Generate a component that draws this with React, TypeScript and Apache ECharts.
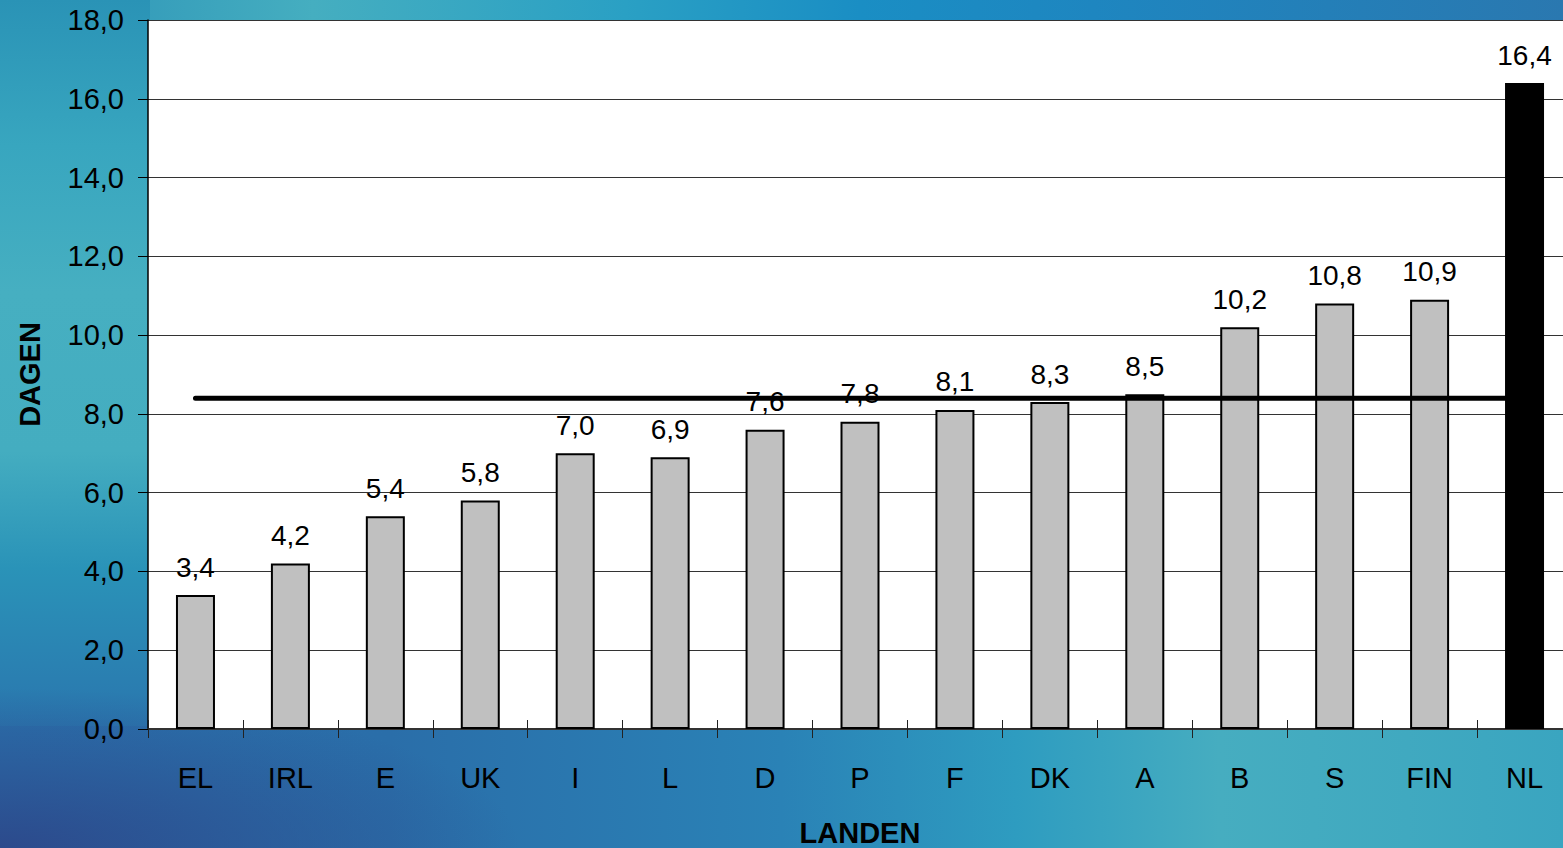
import React, { useEffect, useRef } from "react";
import * as echarts from "echarts";

const categories = ["EL", "IRL", "E", "UK", "I", "L", "D", "P", "F", "DK", "A", "B", "S", "FIN", "NL"];
const values = [3.4, 4.2, 5.4, 5.8, 7.0, 6.9, 7.6, 7.8, 8.1, 8.3, 8.5, 10.2, 10.8, 10.9, 16.4];
const average = [8.4, 8.4, 8.4, 8.4, 8.4, 8.4, 8.4, 8.4, 8.4, 8.4, 8.4, 8.4, 8.4, 8.4, 8.4];
const highlight = "NL";
const yTicks = { min: 0, max: 18, interval: 2 };

const fmt = (v: number) => v.toFixed(1).replace(".", ",");
const FONT = "'Liberation Sans', Arial, Helvetica, sans-serif";

export default function App() {
  const ref = useRef<HTMLDivElement>(null);
  useEffect(() => {
    if (!ref.current) return;
    const chart = echarts.init(ref.current, undefined, { renderer: "svg" });
    chart.setOption({
      animation: false,
      textStyle: { fontFamily: FONT },
      grid: {
        left: 148,
        right: -9,
        top: 20,
        bottom: 119,
        outerBoundsMode: "none",
        containLabel: false,
        show: true,
        backgroundColor: "#ffffff",
        borderWidth: 0,
      },
      xAxis: [
        {
          type: "category",
          data: categories,
          axisLine: { show: true, lineStyle: { color: "#333", width: 2 } },
          axisTick: { show: true, inside: false, length: 9, lineStyle: { color: "#222", width: 1 } },
          axisLabel: { color: "#000", fontSize: 29, fontFamily: FONT, margin: 34 },
          name: "LANDEN",
          nameLocation: "middle",
          nameGap: 89,
          nameTextStyle: { color: "#000", fontSize: 29, fontWeight: "bold", fontFamily: FONT },
        },
        {
          type: "category",
          data: categories,
          position: "bottom",
          axisLine: { show: false },
          axisTick: { show: true, inside: true, length: 9, lineStyle: { color: "#222", width: 1 } },
          axisLabel: { show: false },
        },
      ],
      yAxis: {
        type: "value",
        min: yTicks.min,
        max: yTicks.max,
        interval: yTicks.interval,
        axisLine: { show: true, lineStyle: { color: "#000", width: 1.5 } },
        axisTick: { show: true, length: 10, lineStyle: { color: "#000" } },
        axisLabel: { color: "#000", fontSize: 29, fontFamily: FONT, margin: 24, formatter: (v: number) => fmt(v) },
        splitLine: { show: true, lineStyle: { color: "#333", width: 1 } },
        name: "DAGEN",
        nameLocation: "middle",
        nameGap: 104,
        nameTextStyle: { color: "#000", fontSize: 29, fontWeight: "bold", fontFamily: FONT },
      },
      series: [
        {
          type: "bar",
          barWidth: 39,
          data: values.map((v, i) => ({
            value: v,
            itemStyle: {
              color: categories[i] === highlight ? "#000000" : "#c0c0c0",
              borderColor: "#000",
              borderWidth: categories[i] === highlight ? 0 : 2,
            },
          })),
          label: {
            show: true,
            position: "top",
            distance: 14,
            color: "#000",
            fontSize: 28,
            fontFamily: FONT,
            formatter: (p: any) => fmt(p.value),
          },
          z: 2,
        },
        {
          type: "line",
          data: average,
          symbol: "none",
          lineStyle: { color: "#000", width: 5, cap: "round" },
          z: 5,
        },
      ],
    });
    return () => chart.dispose();
  }, []);

  const bg = [
    // bottom-left navy corner
    "radial-gradient(ellipse 520px 160px at 0px 848px, rgba(44,74,140,1), rgba(44,74,140,0)) left top / 100% 100% no-repeat",
    // bottom strip
    "linear-gradient(90deg, #2a70ab 0%, #2a6ea9 25%, #2a82b6 50%, #2e9cc0 65%, #46adc0 78%, #40a9c0 90%, #3aa5c0 100%) left bottom / 100% 122px no-repeat",
    // left column
    "linear-gradient(180deg, #2a93b6 0%, #38a6bf 20%, #46afc1 40%, #44adc0 62%, #2a93b8 78%, #2a76ae 100%) left top / 150px 728px no-repeat",
    // top strip
    "linear-gradient(90deg, #2a90b6 0%, #45aec0 20%, #2aa0c4 40%, #1a8ec4 55%, #1e86c0 70%, #2a78b0 100%) left top / 100% 24px no-repeat",
    "#2a90bb",
  ].join(",");

  return (
    <div
      style={{
        position: "fixed",
        left: 0,
        top: 0,
        width: 1563,
        height: 848,
        background: bg,
      }}
    >
      <div ref={ref} style={{ width: 1563, height: 848 }} />
    </div>
  );
}
